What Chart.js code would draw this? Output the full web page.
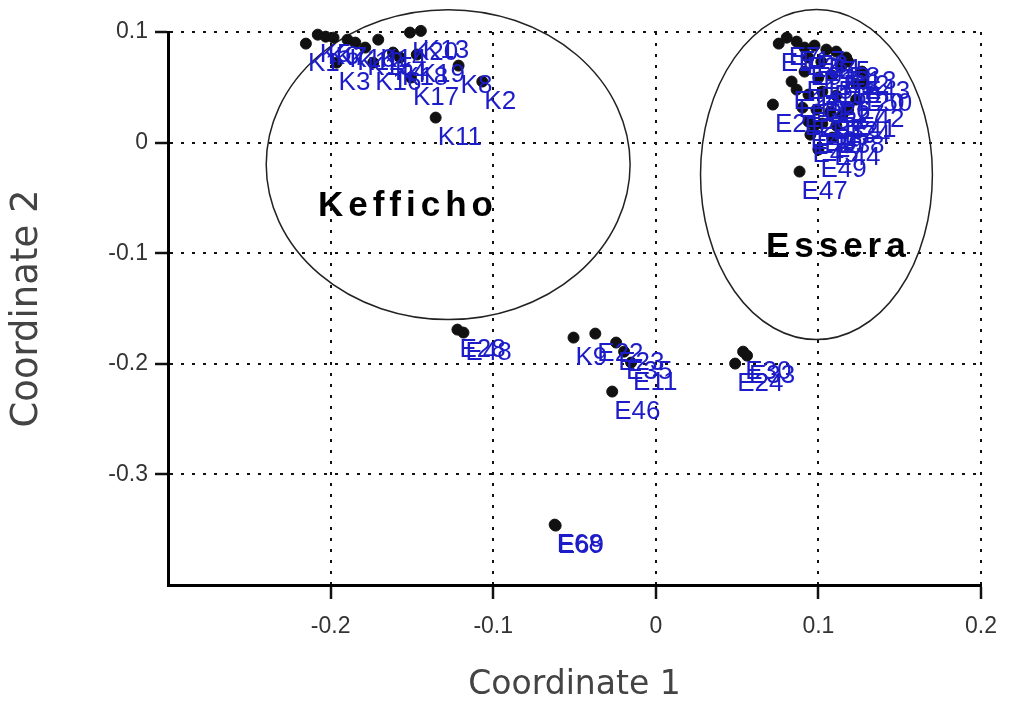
<!DOCTYPE html>
<html>
<head>
<meta charset="utf-8">
<script src="https://cdn.jsdelivr.net/npm/chart.js@4.4.1/dist/chart.umd.min.js"></script>
<style>
  html, body { margin: 0; background: #fff; }
  #wrap { width: 1011px; height: 702px; }
</style>
</head>
<body>
<div id="wrap"><canvas id="chart"></canvas></div>
<script>
// Kefficho samples
const kLabels = ['K1', 'K5', 'K6', 'K7', 'K10', 'K12', 'K15', 'K14', 'K20', 'K13', 'K4', 'K18', 'K19', 'K3', 'K16', 'K17', 'K8', 'K2', 'K11', 'K9'];
const kX = [-0.2152, -0.2079, -0.2030, -0.1982, -0.1896, -0.1848, -0.1787, -0.1707, -0.1512, -0.1445, -0.1616, -0.1573, -0.1470, -0.1963, -0.1738, -0.1506, -0.1213, -0.1067, -0.1354, -0.0506];
const kY = [0.0895, 0.0976, 0.0958, 0.0949, 0.0931, 0.0904, 0.0859, 0.0931, 0.0995, 0.1010, 0.0814, 0.0769, 0.0796, 0.0723, 0.0723, 0.0588, 0.0696, 0.0552, 0.0226, -0.1763];

// Essera samples
const eLabels = ['E1', 'E7', 'E17', 'E2', 'E3', 'E4', 'E5', 'E8', 'E9', 'E10', 'E12', 'E13', 'E43', 'E14', 'E15', 'E16', 'E18', 'E19', 'E20', 'E50',
                 'E21', 'E25', 'E26', 'E27', 'E42', 'E29', 'E31', 'E32', 'E34', 'E41', 'E40', 'E37', 'E38', 'E39', 'E44', 'E45', 'E47', 'E49',
                 'E28', 'E48', 'E22', 'E23', 'E35', 'E11', 'E46', 'E30', 'E33', 'E24', 'E68', 'E69'];
const eX = [0.0756, 0.0805, 0.0866, 0.0915, 0.0976, 0.1049, 0.1110, 0.1171, 0.0939, 0.1018, 0.1140, 0.1183, 0.1268, 0.0835, 0.0915, 0.1000, 0.1085, 0.0866, 0.1232, 0.1280,
            0.0720, 0.0939, 0.1024, 0.1110, 0.1232, 0.0902, 0.0988, 0.1073, 0.1146, 0.1183, 0.0939, 0.1024, 0.1110, 0.0976, 0.1085, 0.0951, 0.0884, 0.1000,
            -0.1220, -0.1183, -0.0372, -0.0244, -0.0195, -0.0152, -0.0268, 0.0537, 0.0561, 0.0488, -0.0622, -0.0616];
const eY = [0.0895, 0.0949, 0.0913, 0.0859, 0.0877, 0.0841, 0.0823, 0.0769, 0.0769, 0.0732, 0.0696, 0.0732, 0.0642, 0.0552, 0.0642, 0.0588, 0.0606, 0.0479, 0.0533, 0.0533,
            0.0344, 0.0434, 0.0461, 0.0425, 0.0389, 0.0316, 0.0298, 0.0280, 0.0244, 0.0298, 0.0190, 0.0172, 0.0154, 0.0154, 0.0045, 0.0072, -0.0262, -0.0063,
            -0.1691, -0.1718, -0.1727, -0.1808, -0.1890, -0.1989, -0.2251, -0.1890, -0.1926, -0.1998, -0.3454, -0.3463];

// group outlines (data units) and their names
const groupNames = ['Kefficho', 'Essera'];
const groupCx = [-0.1277, 0.0988];
const groupCy = [-0.0199, -0.0289];
const groupRx = [0.1119, 0.0713];
const groupRy = [0.1401, 0.1492];
const groupTextX = [-0.1537, 0.1110];
const groupTextY = [-0.0561, -0.0931];

const xTitle = 'Coordinate 1';
const yTitle = 'Coordinate 2';

const sans = '"Liberation Sans", Arial, sans-serif';

function toPoints(xs, ys) {
    return xs.map((x, i) => ({ x: x, y: ys[i] }));
}

// ellipses + group names + sample labels
const groupPlugin = {
    id: 'groups',
    beforeDatasetsDraw(chart) {
        const ctx = chart.ctx;
        const xs = chart.scales.x, ys = chart.scales.y;
        ctx.save();
        ctx.strokeStyle = '#222';
        ctx.lineWidth = 1.5;
        groupNames.forEach((name, i) => {
            const cx = xs.getPixelForValue(groupCx[i]);
            const cy = ys.getPixelForValue(groupCy[i]);
            const rx = Math.abs(xs.getPixelForValue(groupCx[i] + groupRx[i]) - cx);
            const ry = Math.abs(ys.getPixelForValue(groupCy[i] + groupRy[i]) - cy);
            ctx.beginPath();
            ctx.ellipse(cx, cy, rx, ry, 0, 0, Math.PI * 2);
            ctx.stroke();
        });
        ctx.fillStyle = '#000';
        ctx.font = 'bold 35px ' + sans;
        ctx.textAlign = 'center';
        ctx.textBaseline = 'middle';
        ctx.letterSpacing = '5px';
        groupNames.forEach((name, i) => {
            ctx.fillText(name, xs.getPixelForValue(groupTextX[i]) + 2, ys.getPixelForValue(groupTextY[i]) + 2);
        });
        ctx.restore();
    },
    afterDatasetsDraw(chart) {
        const ctx = chart.ctx;
        ctx.save();
        ctx.fillStyle = '#1c1cc8';
        ctx.font = '26px ' + sans;
        ctx.textAlign = 'left';
        ctx.textBaseline = 'middle';
        [kLabels, eLabels].forEach((labels, d) => {
            const meta = chart.getDatasetMeta(d);
            meta.data.forEach((pt, j) => {
                ctx.fillText(labels[j], pt.x + 2, pt.y + 20);
            });
        });
        ctx.restore();
    }
};

function tickText(v, skip) {
    const r = Math.round(v * 10) / 10;
    return Math.abs(r - skip) < 1e-9 ? '' : String(r);
}

function gridColor(c, min) {
    return Math.abs(c.tick.value - min) < 1e-9 ? 'rgba(0,0,0,0)' : '#111';
}

new Chart(document.getElementById('chart'), {
    type: 'scatter',
    data: {
        datasets: [
            { label: 'Kefficho', data: toPoints(kX, kY), backgroundColor: '#111', borderColor: '#111', pointRadius: 5.5, pointHoverRadius: 5.5 },
            { label: 'Essera', data: toPoints(eX, eY), backgroundColor: '#111', borderColor: '#111', pointRadius: 5.5, pointHoverRadius: 5.5 }
        ]
    },
    options: {
        responsive: true,
        maintainAspectRatio: false,
        animation: false,
        clip: false,
        layout: { padding: { top: 32, right: 23, left: 0, bottom: 0 } },
        plugins: { legend: { display: false }, tooltip: { enabled: false } },
        scales: {
            x: {
                type: 'linear',
                min: -0.3,
                max: 0.2,
                afterFit(scale) { scale.height = 117; },
                ticks: {
                    stepSize: 0.1,
                    color: '#333',
                    font: { family: sans, size: 23 },
                    padding: 14,
                    maxRotation: 0,
                    callback: v => tickText(v, -0.3)
                },
                grid: {
                    color: c => gridColor(c, -0.3),
                    tickColor: c => gridColor(c, -0.3),
                    lineWidth: 2,
                    tickWidth: 2.5,
                    tickLength: 14,
                    tickBorderDash: []
                },
                border: { color: '#000', width: 3, dash: [3, 8] },
                title: {
                    display: true,
                    text: xTitle,
                    color: '#444',
                    font: { family: '"DejaVu Sans", sans-serif', size: 33, lineHeight: 1 },
                    padding: { top: 0, bottom: 0 }
                }
            },
            y: {
                type: 'linear',
                min: -0.4,
                max: 0.1,
                afterFit(scale) { scale.width = 168; },
                ticks: {
                    stepSize: 0.1,
                    color: '#333',
                    font: { family: sans, size: 23 },
                    padding: 7,
                    callback: v => tickText(v, -0.4)
                },
                grid: {
                    color: c => gridColor(c, -0.4),
                    tickColor: c => gridColor(c, -0.4),
                    lineWidth: 2,
                    tickWidth: 2.5,
                    tickLength: 13,
                    tickBorderDash: []
                },
                border: { color: '#000', width: 3, dash: [3, 8] },
                title: {
                    display: true,
                    text: yTitle,
                    color: '#444',
                    font: { family: '"DejaVu Sans", sans-serif', size: 37, lineHeight: 1 },
                    padding: { top: 9, bottom: 0 }
                }
            }
        }
    },
    plugins: [groupPlugin]
});
</script>
</body>
</html>
